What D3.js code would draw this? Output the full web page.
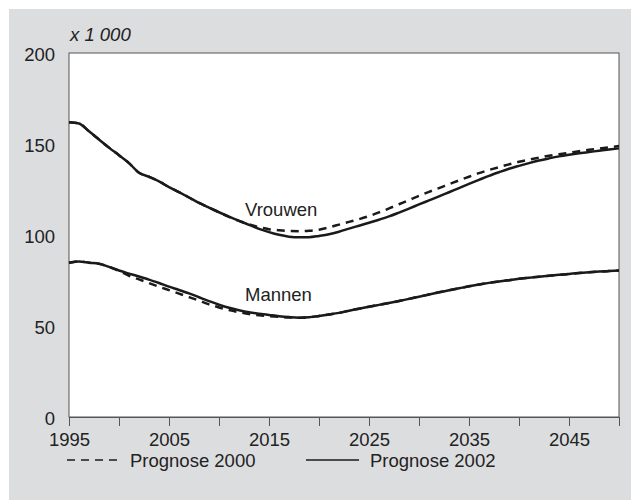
<!DOCTYPE html>
<html>
<head>
<meta charset="utf-8">
<script src="https://cdn.jsdelivr.net/npm/d3@7"></script>
<style>
  html, body { margin: 0; padding: 0; background: #ffffff; }
  svg { display: block; }
  text { font-family: "Liberation Sans", Arial, sans-serif; fill: #222; }
</style>
</head>
<body>
<svg id="chart" width="631" height="502"></svg>
<script>
// ---- data ----
const years = d3.range(1995, 2051);

const vrouwen2002 = [162, 161.3, 157, 152.5, 148, 143.8, 139.5, 134.2, 132, 129.5,
  126.3, 123.5, 120.6, 117.6, 115, 112.5, 110.1, 107.8, 105.6, 103.4,
  101.6, 100.1, 99.1, 98.7, 98.8, 99.5, 100.4, 101.8, 103.5, 105.1,
  106.7, 108.4, 110.2, 112.3, 114.5, 116.8, 119, 121.2, 123.5, 125.8,
  128.1, 130.3, 132.5, 134.5, 136.4, 138, 139.5, 140.9, 142.1, 143.2,
  144.1, 144.9, 145.6, 146.3, 147, 147.6];

const vrouwen2000 = [162, 161.3, 157, 152.5, 148, 143.8, 139.5, 134.2, 132, 129.5,
  126.3, 123.5, 120.6, 117.6, 115, 112.5, 110, 107.8, 105.9, 104.3,
  103.2, 102.6, 102.2, 102.1, 102.3, 102.9, 104.2, 105.7, 107.2, 108.7,
  110.4, 112.4, 114.6, 116.9, 119.2, 121.5, 123.7, 125.8, 127.9, 130,
  132, 134, 135.7, 137.3, 138.8, 140.2, 141.4, 142.5, 143.5, 144.4,
  145.2, 146, 146.8, 147.5, 148.2, 148.9];

const mannen2002 = [84.8, 85.5, 84.8, 84.2, 82.5, 80.5, 78.8, 77.2, 75.5, 73.6,
  71.6, 69.8, 67.9, 65.8, 63.7, 61.7, 60, 58.7, 57.6, 56.8,
  56.1, 55.4, 54.9, 54.6, 54.8, 55.5, 56.3, 57.2, 58.4, 59.5,
  60.6, 61.6, 62.6, 63.7, 64.9, 66.1, 67.3, 68.5, 69.6, 70.7,
  71.8, 72.8, 73.7, 74.5, 75.2, 75.9, 76.5, 77.1, 77.6, 78.1,
  78.6, 79.1, 79.5, 79.9, 80.2, 80.5];

const mannen2000 = [84.8, 85.5, 84.8, 84.2, 82.5, 80.3, 77.6, 75.6, 73.6, 71.6,
  69.7, 67.8, 65.9, 63.9, 61.9, 60.2, 58.8, 57.6, 56.6, 55.9,
  55.4, 55, 54.7, 54.6, 54.8, 55.5, 56.3, 57.2, 58.4, 59.5,
  60.6, 61.6, 62.6, 63.7, 64.9, 66.1, 67.3, 68.5, 69.6, 70.7,
  71.8, 72.8, 73.7, 74.5, 75.2, 75.9, 76.5, 77.1, 77.6, 78.1,
  78.6, 79.1, 79.5, 79.9, 80.2, 80.5];

const xTickValues = d3.range(1995, 2051, 5);
const xLabelValues = [1995, 2005, 2015, 2025, 2035, 2045];
const yTickValues = [0, 50, 100, 150, 200];
const unitLabel = "x 1 000";
const seriesLabels = ["Vrouwen", "Mannen"];
const legendLabels = ["Prognose 2000", "Prognose 2002"];

// ---- layout ----
const svg = d3.select("#chart");
const W = 631, H = 502;
const plot = { left: 69, top: 53, right: 619, bottom: 417 };

svg.append("rect").attr("x", 9).attr("y", 9).attr("width", W - 9).attr("height", 491)
  .attr("fill", "#dcdddf");

const x = d3.scaleLinear().domain([1995, 2050]).range([plot.left, plot.right]);
const y = d3.scaleLinear().domain([0, 200]).range([plot.bottom, plot.top]);

svg.append("rect").attr("x", plot.left).attr("y", plot.top)
  .attr("width", plot.right - plot.left).attr("height", plot.bottom - plot.top)
  .attr("fill", "#ffffff").attr("stroke", "#555").attr("stroke-width", 1);

// x axis
const xAxis = d3.axisBottom(x).tickValues(xTickValues).tickSize(9)
  .tickFormat(d => xLabelValues.includes(d) ? String(d) : "");
const gx = svg.append("g").attr("transform", `translate(0,${plot.bottom})`).call(xAxis);
gx.select(".domain").attr("stroke", "#555");
gx.selectAll(".tick line").attr("stroke", "#555");
gx.selectAll(".tick text").attr("font-size", 18.5).attr("dy", 0).attr("y", 29)
  .attr("font-family", "Liberation Sans, Arial, sans-serif").attr("fill", "#222");

// y axis labels (no ticks)
const yAxis = d3.axisLeft(y).tickValues(yTickValues).tickSize(0).tickPadding(14);
const gy = svg.append("g").attr("transform", `translate(${plot.left},0)`).call(yAxis);
gy.select(".domain").remove();
gy.selectAll(".tick text").attr("font-size", 18.5).attr("dy", "0.42em")
  .attr("font-family", "Liberation Sans, Arial, sans-serif").attr("fill", "#222");

svg.append("text").attr("x", 70).attr("y", 41).attr("font-size", 18.5)
  .attr("font-style", "italic").text(unitLabel);

// lines
const line = d3.line().x((d, i) => x(years[i])).y(d => y(d)).curve(d3.curveMonotoneX);
const series = [
  { v: vrouwen2000, dash: "8,6" },
  { v: mannen2000, dash: "8,6" },
  { v: vrouwen2002, dash: null },
  { v: mannen2002, dash: null }
];
svg.append("g").selectAll("path").data(series).join("path")
  .attr("d", d => line(d.v))
  .attr("fill", "none").attr("stroke", "#1a1a1a").attr("stroke-width", 2.5)
  .attr("stroke-dasharray", d => d.dash);

// series labels
svg.append("text").attr("x", 245).attr("y", 216).attr("font-size", 18.5).text(seriesLabels[0]);
svg.append("text").attr("x", 245).attr("y", 301).attr("font-size", 18.5).text(seriesLabels[1]);

// legend
const ly = 460;
svg.append("line").attr("x1", 67).attr("x2", 120).attr("y1", ly).attr("y2", ly)
  .attr("stroke", "#1a1a1a").attr("stroke-width", 1.5).attr("stroke-dasharray", "8,6");
svg.append("text").attr("x", 130).attr("y", ly + 6.5).attr("font-size", 18.5).text(legendLabels[0]);
svg.append("line").attr("x1", 306).attr("x2", 359).attr("y1", ly).attr("y2", ly)
  .attr("stroke", "#1a1a1a").attr("stroke-width", 1.5);
svg.append("text").attr("x", 370).attr("y", ly + 6.5).attr("font-size", 18.5).text(legendLabels[1]);
</script>
</body>
</html>
